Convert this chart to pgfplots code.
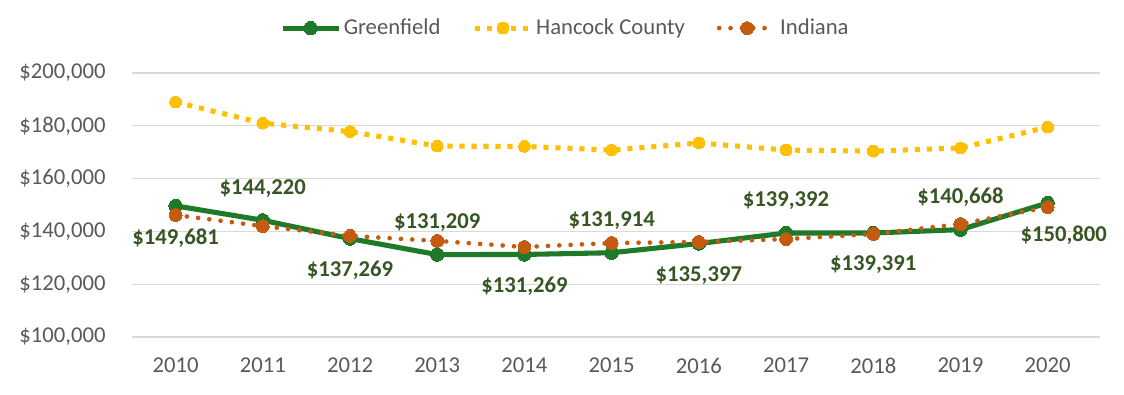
\documentclass[border=0pt]{standalone}
\usepackage{pgfplots}
\usepackage{pgfplotstable}
\pgfplotsset{compat=1.18}
\usepackage{fontspec}
\setmainfont{Carlito}
\definecolor{gfgreen}{RGB}{30,122,40}
\definecolor{lblgreen}{RGB}{55,86,35}
\definecolor{hcgold}{RGB}{255,192,0}
\definecolor{inorange}{RGB}{197,90,17}
\definecolor{txtgray}{RGB}{89,89,89}
\definecolor{gridgray}{RGB}{217,217,217}

\pgfplotstableread{
x year green hancock indiana lbl off dx
0 2010 149681 189000 146200 149,681 -24 0
1 2011 144220 181000 142000 144,220 24 0
2 2012 137269 177800 138300 137,269 -24 0
3 2013 131209 172300 136400 131,209 24 0
4 2014 131269 172200 134100 131,269 -24 0
5 2015 131914 170800 135600 131,914 24 0
6 2016 135397 173500 136000 135,397 -24 0
7 2017 139392 170800 137100 139,392 24 0
8 2018 139391 170400 139000 139,391 -24 0
9 2019 140668 171600 142800 140,668 24 0
10 2020 150800 179500 149200 150,800 -24 12
}\data

\begin{document}
\fontsize{17}{20}\selectfont
\begin{tikzpicture}
\begin{axis}[
  scale only axis,
  width=726pt, height=198pt,
  xmin=-0.5, xmax=10.6,
  ymin=100000, ymax=200000,
  xtick={0,...,10},
  xticklabels={2010,2011,2012,2013,2014,2015,2016,2017,2018,2019,2020},
  ytick distance=20000,
  scaled y ticks=false,
  /pgf/number format/.cd, fixed, precision=0, 1000 sep={,}, assume math mode=true, /pgfplots/.cd,
  yticklabel={\$\pgfmathprintnumber{\tick}},
  ticklabel style={text=txtgray, font=\fontsize{17}{20}\selectfont},
  yticklabel style={xshift=-14pt},
  xticklabel style={yshift=-10pt},
  axis line style={draw=none},
  tick style={draw=none},
  ymajorgrids,
  grid style={gridgray, line width=0.9pt},
  clip=false,
  legend columns=-1,
  legend style={draw=none, fill=none, at={(0.448,1.17)}, anchor=center,
    font=\fontsize{17}{20}\selectfont, text=txtgray,
    /tikz/every even column/.append style={column sep=22pt},
    inner sep=0pt},
  legend image code/.code={%
    \draw[mark repeat=2,mark phase=2] plot coordinates {(0pt,0pt) (21pt,0pt) (42pt,0pt)};},
]
\addplot[gfgreen, line width=3.8pt, mark=*, mark size=5pt, mark options={solid, fill=gfgreen, draw=gfgreen, line width=0pt}]
  table[x=x, y=green] {\data};
\addlegendentry{Greenfield}
\addplot[hcgold, line width=3.8pt, dash pattern=on 3.8pt off 5.2pt, mark=*, mark size=4.4pt, mark options={solid, fill=hcgold, draw=hcgold, line width=0pt}]
  table[x=x, y=hancock] {\data};
\addlegendentry{Hancock County}
\addplot[inorange, line width=3.5pt, line cap=round, dash pattern=on 0pt off 8.5pt, mark=*, mark size=4.8pt, mark options={solid, fill=inorange, draw=inorange, line width=0pt}]
  table[x=x, y=indiana] {\data};
\addlegendentry{Indiana}
\addplot[draw=none, mark=none, forget plot,
  point meta=explicit symbolic,
  visualization depends on={\thisrow{off} \as \offy},
  visualization depends on={\thisrow{dx} \as \offx},
  nodes near coords={\$\pgfplotspointmeta},
  every node near coord/.append style={anchor=center, yshift=\offy pt, xshift=\offx pt,
    text=lblgreen, font=\fontsize{17}{20}\selectfont\bfseries, inner sep=0pt}]
  table[x=x, y=green, meta=lbl] {\data};
\end{axis}
\path ([xshift=-99pt,yshift=-42.75pt]current axis.south west) rectangle ([xshift=18pt,yshift=54.75pt]current axis.north east);
\end{tikzpicture}
\end{document}
